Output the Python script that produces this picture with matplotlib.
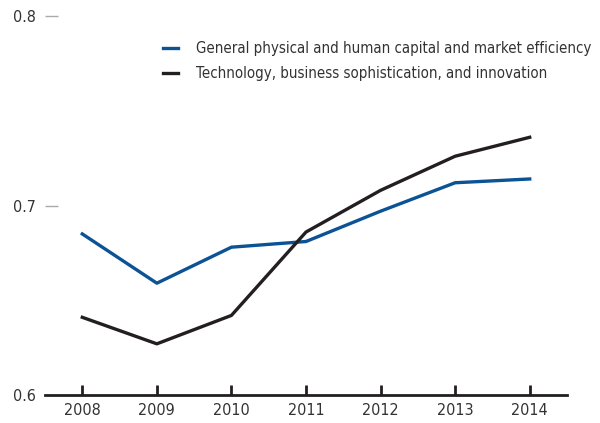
import matplotlib
matplotlib.use('Agg')
import matplotlib.pyplot as plt
from matplotlib import font_manager

# Chart data
years = [2008, 2009, 2010, 2011, 2012, 2013, 2014]
general = [0.685, 0.659, 0.678, 0.681, 0.697, 0.712, 0.714]
technology = [0.641, 0.627, 0.642, 0.686, 0.708, 0.726, 0.736]
labels = ['General physical and human capital and market efficiency',
          'Technology, business sophistication, and innovation']

# look for a narrow sans face, the original uses a condensed Helvetica
narrow = None
for f in font_manager.fontManager.ttflist:
    fn = f.fname.lower()
    if ('narrow' in fn or 'condensed' in fn) and 'bold' not in fn and 'oblique' not in fn \
            and 'italic' not in fn and 'mono' not in fn and 'serif' not in fn.replace('sans', ''):
        narrow = f
        break

if narrow is not None:
    font_manager.fontManager.addfont(narrow.fname)
    plt.rcParams['font.family'] = [narrow.name, 'DejaVu Sans']
    plt.rcParams['font.stretch'] = narrow.stretch
    tick_size, leg_size = 11.5, 10.8
else:
    plt.rcParams['font.family'] = ['Liberation Sans', 'DejaVu Sans']
    tick_size, leg_size = 11, 10.7

fig = plt.figure(figsize=(6, 4.23), dpi=100)
ax = fig.add_axes([45 / 600, 1 - 395 / 423, 522 / 600, (395 - 16) / 423])

ax.plot(years, general, color='#0b5394', lw=2.4, label=labels[0])
ax.plot(years, technology, color='#231f20', lw=2.4, label=labels[1])

ax.set_xlim(2007.5, 2014.5)
ax.set_ylim(0.6, 0.8)
ax.set_xticks(years)
ax.set_yticks([0.6, 0.7, 0.8])
ax.set_yticklabels(['0.6', '0.7', '0.8'])

for side in ['left', 'right', 'top']:
    ax.spines[side].set_visible(False)
ax.spines['bottom'].set_color('#231f20')
ax.spines['bottom'].set_linewidth(2)

ax.tick_params(axis='x', direction='in', length=7, width=2, color='#231f20',
               labelsize=tick_size, labelcolor='#333333', pad=6)
ax.tick_params(axis='y', direction='in', length=9.5, width=1, color='#aaaaaa',
               labelsize=tick_size, labelcolor='#333333', pad=6.5)
ax.yaxis.get_major_ticks()[0].tick1line.set_visible(False)

ax.legend(loc='upper left', bbox_to_anchor=(0.2, 0.97), frameon=False,
          fontsize=leg_size, handlelength=1.0, handletextpad=1.2,
          labelspacing=0.7, labelcolor='#333333')

fig.savefig('out.png', dpi=100)
